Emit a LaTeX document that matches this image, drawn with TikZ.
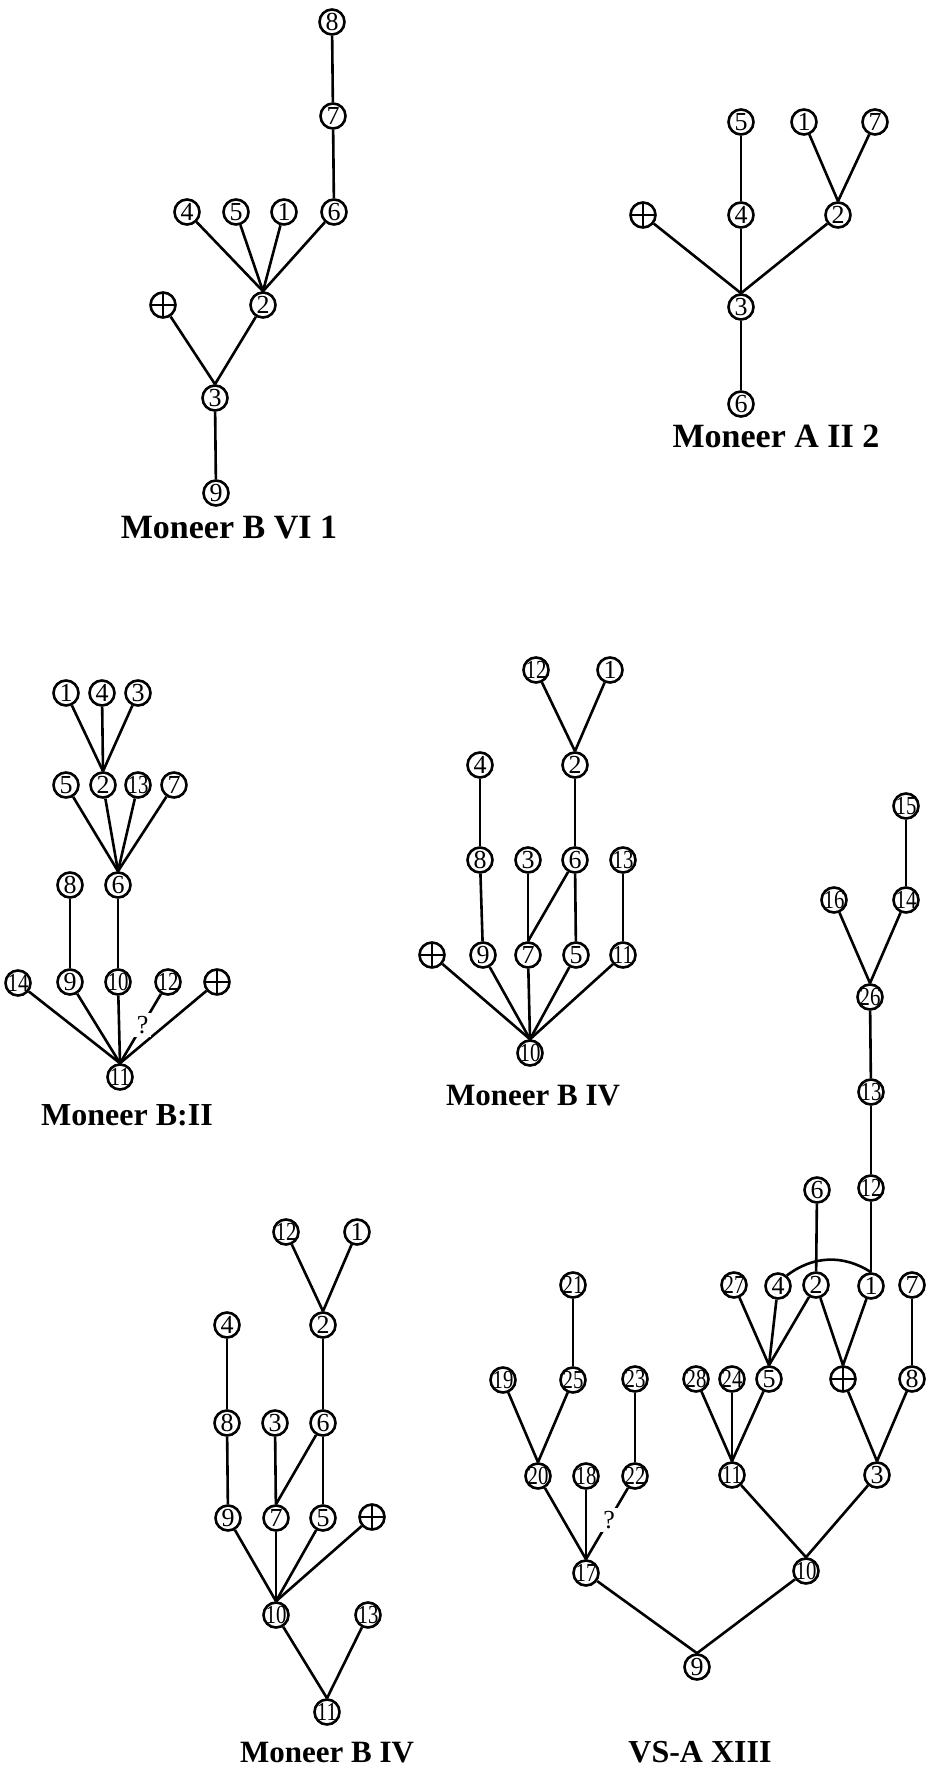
\documentclass[tikz,border=0pt]{standalone}
\usepackage{fontspec}
\setmainfont{Liberation Serif}
\usepackage{graphicx}
\newcommand{\tw}[1]{\scalebox{0.8}[1]{#1}}
\tikzset{
  nd/.style={
    circle, draw, line width=2.6pt,
    minimum size=25pt, inner sep=-3pt,
    font=\fontsize{26}{26}\selectfont,
  },
  crs/.style={
    nd,
    path picture={
      \draw[line width=2.6pt]
        (path picture bounding box.north) -- (path picture bounding box.south)
        (path picture bounding box.west) -- (path picture bounding box.east);
    },
  },
  edg/.style={line width=2.6pt},
  qm/.style={fill=white, inner sep=3pt, font=\fontsize{26}{26}\selectfont},
  ttl/.style={font=\fontsize{#1}{#1}\selectfont\bfseries},
  ttl/.default=31,
}

\begin{document}
\begin{tikzpicture}[x=1pt,y=-1pt]
    \fill[white] (0,0) rectangle (929,1770);

    % Moneer B VI 1
    \node[nd]  (p8) at (332,22)  {8};
    \node[nd]  (p7) at (333,116) {7};
    \node[nd]  (p4) at (187,212) {4};
    \node[nd]  (p5) at (236,212) {5};
    \node[nd]  (p1) at (284,212) {1};
    \node[nd]  (p6) at (334,212) {6};
    \node[crs] (pX) at (163,305) {};
    \node[nd]  (p2) at (263,305) {2};
    \node[nd]  (p3) at (215,398) {3};
    \node[nd]  (p9) at (216,493) {9};
    \node[ttl=34] (pT) at (229,528) {Moneer B VI 1};
    \draw[edg] (p8)--(p7); \draw[edg] (p7)--(p6); \draw[edg] (p3)--(p9);
    \foreach \c in {p4,p5,p1,p6} \draw[edg] (\c)--(p2.north);
    \foreach \c in {pX,p2} \draw[edg] (\c)--(p3.north);

    % Moneer A II 2
    \node[nd]  (q5) at (741,122) {5};
    \node[nd]  (q1) at (804,122) {1};
    \node[nd]  (q7) at (875,122) {7};
    \node[crs] (qX) at (643,215) {};
    \node[nd]  (q4) at (741,215) {4};
    \node[nd]  (q2) at (838,215) {2};
    \node[nd]  (q3) at (741,307) {3};
    \node[nd]  (q6) at (741,404) {6};
    \node[ttl=34] (qT) at (776,436) {Moneer A II 2};
    \draw[edg] (q5)--(q4); \draw[edg] (q3)--(q6);
    \foreach \c in {q1,q7} \draw[edg] (\c)--(q2.north);
    \foreach \c in {qX,q4,q2} \draw[edg] (\c)--(q3.north);

    % Moneer B:II
    \node[nd]  (r1)  at (66,693)   {1};
    \node[nd]  (r4)  at (102,693)  {4};
    \node[nd]  (r3)  at (138,693)  {3};
    \node[nd]  (r5)  at (66,785)   {5};
    \node[nd]  (r2)  at (103,785)  {2};
    \node[nd]  (r13) at (138,785)  {\tw{13}};
    \node[nd]  (r7)  at (174,785)  {7};
    \node[nd]  (r8)  at (70,885)   {8};
    \node[nd]  (r6)  at (118,885)  {6};
    \node[nd]  (r14) at (18,983)   {\tw{14}};
    \node[nd]  (r9)  at (70,982)   {9};
    \node[nd]  (r10) at (118,982)  {\tw{10}};
    \node[nd]  (r12) at (168,982)  {\tw{12}};
    \node[crs] (rX)  at (217,982)  {};
    \node[nd]  (r11) at (120,1077) {\tw{11}};
    \node[ttl=32] (rT) at (127,1115) {Moneer B:II};
    \foreach \c in {r1,r4,r3} \draw[edg] (\c)--(r2.north);
    \foreach \c in {r5,r2,r13,r7} \draw[edg] (\c)--(r6.north);
    \draw[edg] (r8)--(r9); \draw[edg] (r6)--(r10);
    \foreach \c in {r14,r9,r10,rX} \draw[edg] (\c)--(r11.north);
    \draw[edg] (r12)-- node[qm,pos=0.45]{?} (r11.north);

    % Moneer B IV (upper)
    \node[nd]  (s12) at (536,670)  {\tw{12}};
    \node[nd]  (s1)  at (610,670)  {1};
    \node[nd]  (s4)  at (480,765)  {4};
    \node[nd]  (s2)  at (575,765)  {2};
    \node[nd]  (s8)  at (480,860)  {8};
    \node[nd]  (s3)  at (528,860)  {3};
    \node[nd]  (s6)  at (575,860)  {6};
    \node[nd]  (s13) at (623,860)  {\tw{13}};
    \node[crs] (sX)  at (432,955)  {};
    \node[nd]  (s9)  at (483,955)  {9};
    \node[nd]  (s7)  at (528,955)  {7};
    \node[nd]  (s5)  at (576,955)  {5};
    \node[nd]  (s11) at (623,955)  {\tw{11}};
    \node[nd]  (s10) at (530,1053) {\tw{10}};
    \node[ttl] (sT)  at (533,1096) {Moneer B IV};
    \foreach \c in {s12,s1} \draw[edg] (\c)--(s2.north);
    \draw[edg] (s4)--(s8); \draw[edg] (s2)--(s6); \draw[edg] (s8)--(s9);
    \draw[edg] (s3)--(s7); \draw[edg] (s6)--(s7.north); \draw[edg] (s6)--(s5);
    \draw[edg] (s13)--(s11);
    \foreach \c in {sX,s9,s7,s5,s11} \draw[edg] (\c)--(s10.north);

    % Moneer B IV (lower)
    \node[nd]  (t12) at (286,1232) {\tw{12}};
    \node[nd]  (t1)  at (357,1232) {1};
    \node[nd]  (t4)  at (227,1325) {4};
    \node[nd]  (t2)  at (323,1325) {2};
    \node[nd]  (t8)  at (227,1423) {8};
    \node[nd]  (t3)  at (275,1423) {3};
    \node[nd]  (t6)  at (323,1423) {6};
    \node[nd]  (t9)  at (228,1518) {9};
    \node[nd]  (t7)  at (276,1518) {7};
    \node[nd]  (t5)  at (323,1518) {5};
    \node[crs] (tX)  at (372,1517) {};
    \node[nd]  (t10) at (276,1615) {\tw{10}};
    \node[nd]  (t13) at (368,1615) {\tw{13}};
    \node[nd]  (t11) at (327,1712) {\tw{11}};
    \node[ttl] (tT)  at (327,1753) {Moneer B IV};
    \foreach \c in {t12,t1} \draw[edg] (\c)--(t2.north);
    \draw[edg] (t4)--(t8); \draw[edg] (t2)--(t6); \draw[edg] (t8)--(t9);
    \draw[edg] (t3)--(t7); \draw[edg] (t6)--(t7.north); \draw[edg] (t6)--(t5);
    \foreach \c in {t9,t7,t5,tX} \draw[edg] (\c)--(t10.north);
    \foreach \c in {t10,t13} \draw[edg] (\c)--(t11.north);

    % VS-A XIII
    \node[nd]  (v15) at (906,806)  {\tw{15}};
    \node[nd]  (v16) at (834,900)  {\tw{16}};
    \node[nd]  (v14) at (906,900)  {\tw{14}};
    \node[nd]  (v26) at (870,997)  {\tw{26}};
    \node[nd]  (v13) at (871,1092) {\tw{13}};
    \node[nd]  (v6)  at (817,1190) {6};
    \node[nd]  (v12) at (871,1188) {\tw{12}};
    \node[nd]  (v21) at (573,1285) {\tw{21}};
    \node[nd]  (v27) at (734,1285) {\tw{27}};
    \node[nd]  (v4)  at (778,1286) {4};
    \node[nd]  (v2)  at (816,1285) {2};
    \node[nd]  (v1)  at (871,1286) {1};
    \node[nd]  (v7)  at (912,1285) {7};
    \node[nd]  (v19) at (503,1380) {\tw{19}};
    \node[nd]  (v25) at (573,1380) {\tw{25}};
    \node[nd]  (v23) at (635,1379) {\tw{23}};
    \node[nd]  (v28) at (696,1379) {\tw{28}};
    \node[nd]  (v24) at (732,1379) {\tw{24}};
    \node[nd]  (v5)  at (769,1379) {5};
    \node[crs] (vX)  at (843,1379) {};
    \node[nd]  (v8)  at (912,1379) {8};
    \node[nd]  (v20) at (538,1476) {\tw{20}};
    \node[nd]  (v18) at (586,1476) {\tw{18}};
    \node[nd]  (v22) at (635,1476) {\tw{22}};
    \node[nd]  (v11) at (732,1475) {\tw{11}};
    \node[nd]  (v3)  at (877,1475) {3};
    \node[nd]  (v17) at (586,1573) {\tw{17}};
    \node[nd]  (v10) at (806,1571) {\tw{10}};
    \node[nd]  (v9)  at (697,1667) {9};
    \node[ttl=32] (vT) at (700,1752) {VS-A XIII};
    \draw[edg] (v15)--(v14);
    \foreach \c in {v16,v14} \draw[edg] (\c)--(v26.north);
    \draw[edg] (v26)--(v13); \draw[edg] (v13)--(v12); \draw[edg] (v12)--(v1);
    \draw[edg] (v6)--(v2); \draw[edg] (v21)--(v25); \draw[edg] (v7)--(v8);
    \draw[edg] (v23)--(v22);
    \draw[edg] (v4.50) to[bend left=35] (v1.north);
    \foreach \c in {v27,v4,v2} \draw[edg] (\c)--(v5.north);
    \foreach \c in {v2,v1} \draw[edg] (\c)--(vX.north);
    \foreach \c in {v19,v25} \draw[edg] (\c)--(v20.north);
    \foreach \c in {v28,v24,v5} \draw[edg] (\c)--(v11.north);
    \foreach \c in {vX,v8} \draw[edg] (\c)--(v3.north);
    \foreach \c in {v20,v18} \draw[edg] (\c)--(v17.north);
    \draw[edg] (v22)-- node[qm,pos=0.45]{?} (v17.north);
    \foreach \c in {v11,v3} \draw[edg] (\c)--(v10.north);
    \foreach \c in {v17,v10} \draw[edg] (\c)--(v9.north);
\end{tikzpicture}
\end{document}
